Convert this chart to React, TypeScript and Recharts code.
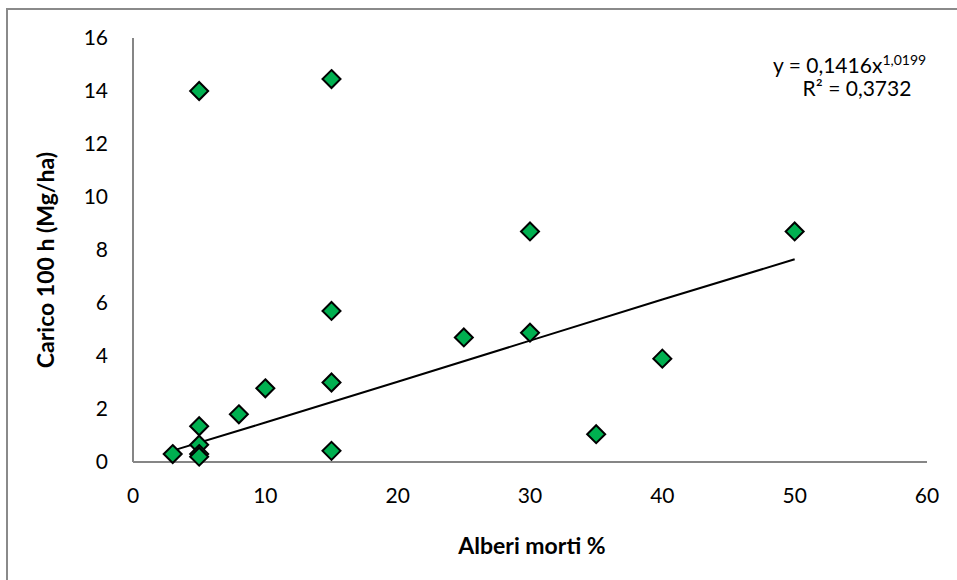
import { ScatterChart, Scatter, XAxis, YAxis } from 'recharts'

// Alberi morti % (x) vs Carico 100 h in Mg/ha (y)
const deadTrees = [3, 5, 5, 5, 5, 5, 8, 10, 15, 15, 15, 15, 25, 30, 30, 35, 40, 50]
const load100h = [0.3, 14.0, 1.35, 0.65, 0.3, 0.2, 1.8, 2.78, 14.45, 5.7, 3.0, 0.42, 4.7, 8.7, 4.88, 1.05, 3.9, 8.7]

// power trendline as drawn in the picture (y = 0,1416x^1,0199)
const trendX = [3, 10, 20, 30, 40, 50]
const trendY = [0.43, 1.49, 3.03, 4.58, 6.13, 7.65]

const xTicks = [0, 10, 20, 30, 40, 50, 60]
const yTicks = [0, 2, 4, 6, 8, 10, 12, 14, 16]

const points = deadTrees.map((x, i) => ({ x, y: load100h[i] }))
const trend = trendX.map((x, i) => ({ x, y: trendY[i] }))

const FONT = 'Lato, "Open Sans", sans-serif'

function Diamond(props: any) {
    const { cx, cy } = props
    if (cx == null || cy == null) return null
    const r = 9
    return (
        <polygon
            points={`${cx},${cy - r} ${cx + r},${cy} ${cx},${cy + r} ${cx - r},${cy}`}
            fill="#00b050"
            stroke="#000"
            strokeWidth={2}
            strokeLinejoin="miter"
        />
    )
}

export default function App() {
    return (
        <div style={{ position: 'absolute', left: 0, top: 0, width: 957, height: 580, background: '#fff', overflow: 'hidden', fontFamily: FONT }}>
            <div
                style={{
                    position: 'absolute',
                    left: 6,
                    top: 8,
                    width: 1000,
                    height: 700,
                    borderLeft: '2px solid #8a8a8a',
                    borderTop: '2px solid #8a8a8a',
                }}
            />
            <div style={{ position: 'absolute', left: 0, top: 0 }}>
                <ScatterChart width={957} height={580} margin={{ top: 38, right: 30, bottom: 78, left: 73 }}>
                    <XAxis
                        type="number"
                        dataKey="x"
                        domain={[0, 60]}
                        ticks={xTicks}
                        height={40}
                        tickLine={false}
                        axisLine={{ stroke: '#868686', strokeWidth: 2 }}
                        tick={{ fill: '#000', fontSize: 21, fontFamily: FONT }}
                        tickMargin={20}
                        interval={0}
                    />
                    <YAxis
                        type="number"
                        dataKey="y"
                        domain={[0, 16]}
                        ticks={yTicks}
                        width={60}
                        tickLine={false}
                        axisLine={{ stroke: '#868686', strokeWidth: 2 }}
                        tick={{ fill: '#000', fontSize: 21, fontFamily: FONT }}
                        tickMargin={19}
                        interval={0}
                    />
                    <Scatter
                        data={trend}
                        line={{ stroke: '#000', strokeWidth: 2 }}
                        shape={() => null}
                        isAnimationActive={false}
                    />
                    <Scatter data={points} shape={<Diamond />} isAnimationActive={false} />
                </ScatterChart>
            </div>
            <div
                style={{
                    position: 'absolute',
                    left: 332,
                    width: 400,
                    top: 530,
                    textAlign: 'center',
                    fontWeight: 700,
                    fontSize: 23,
                    lineHeight: '30px',
                    color: '#000',
                }}
            >
                Alberi morti %
            </div>
            <div
                style={{
                    position: 'absolute',
                    left: 45 - 200,
                    top: 260 - 15,
                    width: 400,
                    textAlign: 'center',
                    transform: 'rotate(-90deg)',
                    fontWeight: 700,
                    fontSize: 23,
                    color: '#000',
                    lineHeight: '30px',
                }}
            >
                Carico 100 h (Mg/ha)
            </div>
            <div style={{ position: 'absolute', left: 773, top: 46, fontSize: 21, color: '#000', lineHeight: '28px', whiteSpace: 'nowrap' }}>
                y = 0,1416x<sup style={{ fontSize: 14 }}>1,0199</sup>
            </div>
            <div style={{ position: 'absolute', left: 757, width: 200, top: 74, textAlign: 'center', fontSize: 21, color: '#000', lineHeight: '28px' }}>
                R² = 0,3732
            </div>
        </div>
    )
}
